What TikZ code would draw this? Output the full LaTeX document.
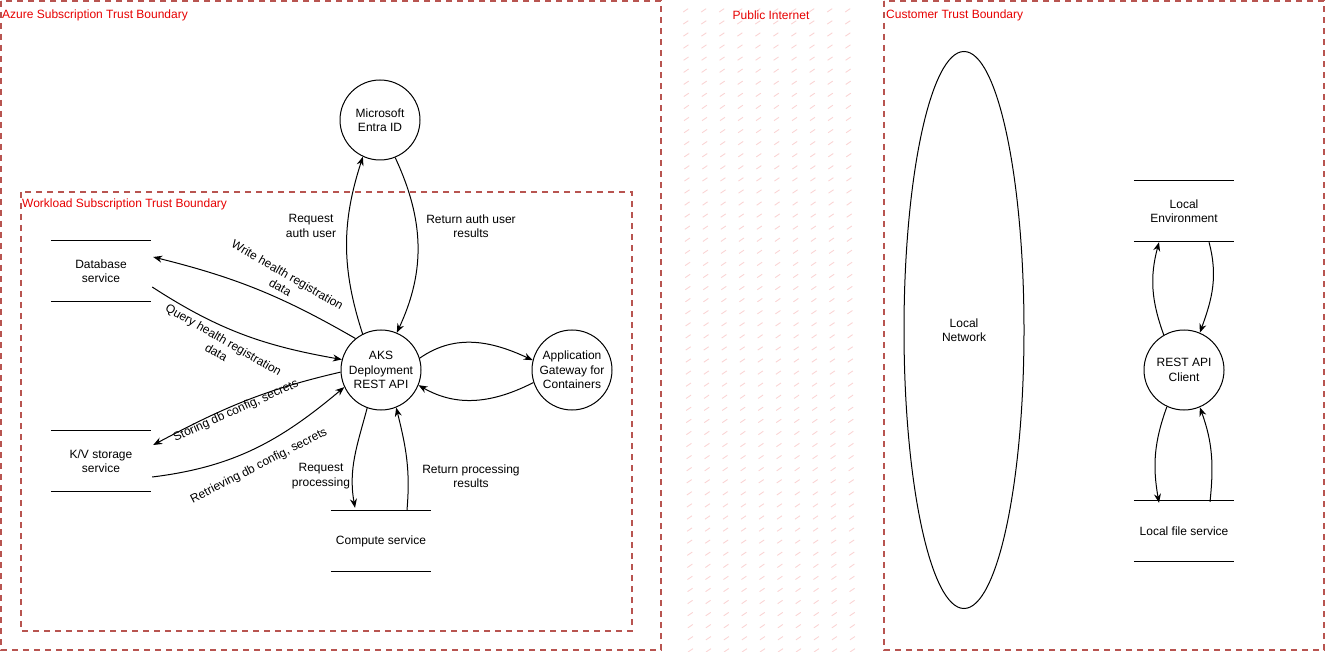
\documentclass[tikz,border=0pt]{standalone}
\usepackage{fontspec}
\setmainfont{Liberation Sans}
\usetikzlibrary{arrows.meta,shapes.geometric,calc}
\definecolor{bnd}{RGB}{184,84,80}
\definecolor{bndtext}{RGB}{230,0,0}
\definecolor{hatchcol}{RGB}{250,212,212}
\begin{document}
\begin{tikzpicture}[x=1pt,y=1pt,
  every node/.style={font=\fontsize{12}{14.5}\selectfont, inner sep=0pt},
  proc/.style={circle, draw, line width=1pt, minimum size=80pt, align=center},
  store/.style={minimum width=100pt, minimum height=60pt, align=center},
  boundary/.style={draw=bnd, line width=1.5pt, dash pattern=on 6pt off 5pt},
  blabel/.style={text=bndtext, anchor=west},
  flow/.style={line width=1pt, -{Stealth[length=9pt,width=7pt]}},
  lbl/.style={align=center},
  hatchline/.style={draw=hatchcol, line width=0.9pt, dash pattern=on 6pt off 15.6pt}
]
\useasboundingbox (0,0) rectangle (1325,-652);

% Public Internet hatched zone
\begin{scope}
  \clip (683,0) rectangle (862,-652);
  \foreach \i in {0,18,...,1152} {
    \draw[hatchline] (\i-284,-652) -- ++(967,652);
  }
\end{scope}
\node[text=bndtext] (pubtxt) at (771,-15) {Public Internet};

% Trust boundaries
\draw[boundary] (1,-1) rectangle (661,-650);
\node[blabel] (azlbl) at (2,-15) {Azure Subscription Trust Boundary};
\draw[boundary] (21,-192) rectangle (632,-631);
\node[blabel] (wllbl) at (22,-204) {Workload Subscription Trust Boundary};
\draw[boundary] (884,-1) rectangle (1324,-650);
\node[blabel] (culbl) at (886,-15) {Customer Trust Boundary};

% Processes
\node[proc] (entra) at (380,-120) {Microsoft\\Entra ID};
\node[proc] (aks) at (381,-370) {AKS\\Deployment\\REST API};
\node[proc] (gw) at (572,-370) {Application\\Gateway for\\Containers};
\node[proc] (cl) at (1184,-370) {REST API\\Client};
\node[ellipse, draw, line width=1pt, minimum width=120pt, minimum height=557pt, align=center] (net) at (964,-330) {Local\\Network};

% Data stores
\node[store] (db) at (101,-271) {Database\\service};
\node[store] (kv) at (101,-461) {K/V storage\\service};
\node[store] (comp) at (381,-541) {Compute service};
\node[store] (le) at (1184,-211) {Local\\Environment};
\node[store] (lf) at (1184,-531) {Local file service};
\foreach \s in {db,kv,comp,le,lf} {
  \draw[line width=1pt] (\s.north west) -- (\s.north east);
  \draw[line width=1pt] (\s.south west) -- (\s.south east);
}

% Flows
\draw[flow] (aks.117) to[out=108,in=252] (entra.245);
\draw[flow] (entra.292) to[out=-65,in=65] (aks.67);
\draw[flow] (aks.129) to[out=150,in=-14] ([xshift=2pt,yshift=14pt]db.east);
\draw[flow] ([xshift=1pt,yshift=-16pt]db.east) to[out=-33,in=170] (aks.165);
\draw[flow] (aks.183) to[out=193,in=28] ([xshift=2pt,yshift=16pt]kv.east);
\draw[flow] ([xshift=1pt,yshift=-16pt]kv.east) to[out=7,in=220] (aks.205);
\draw[flow] (aks.250) to[out=255,in=100] ([xshift=-26pt,yshift=3pt]comp.north);
\draw[flow] ([xshift=26pt,yshift=1pt]comp.north) to[out=85,in=-76] (aks.292);
\draw[flow] (aks.17) to[out=35,in=155] (gw.166);
\draw[flow] (gw.198) to[out=207,in=-30] (aks.338);
\draw[flow] (cl.120) to[out=110,in=255] ([xshift=-25pt,yshift=-1pt]le.south);
\draw[flow] ([xshift=25pt,yshift=-1pt]le.south) to[out=-75,in=70] (cl.67);
\draw[flow] (cl.245) to[out=250,in=100] ([xshift=-25pt,yshift=-2pt]lf.north);
\draw[flow] ([xshift=26pt,yshift=-1pt]lf.north) to[out=84,in=-70] (cl.293);

% Flow labels
\node[lbl] (l1) at (311,-226) {Request\\auth user};
\node[lbl] (l2) at (471,-226) {Return auth user\\results};
\node[lbl, rotate=-30] (l3) at (284,-281) {Write health registration\\data};
\node[lbl, rotate=-30] (l4) at (220,-346) {Query health registration\\data};
\node[lbl, rotate=24] (l5) at (236,-411) {Storing db config, secrets};
\node[lbl, rotate=27] (l6) at (259,-466) {Retrieving db config, secrets};
\node[lbl] (l7) at (321,-476) {Request\\processing};
\node[lbl] (l8) at (471,-476) {Return processing\\results};
\end{tikzpicture}
\end{document}
